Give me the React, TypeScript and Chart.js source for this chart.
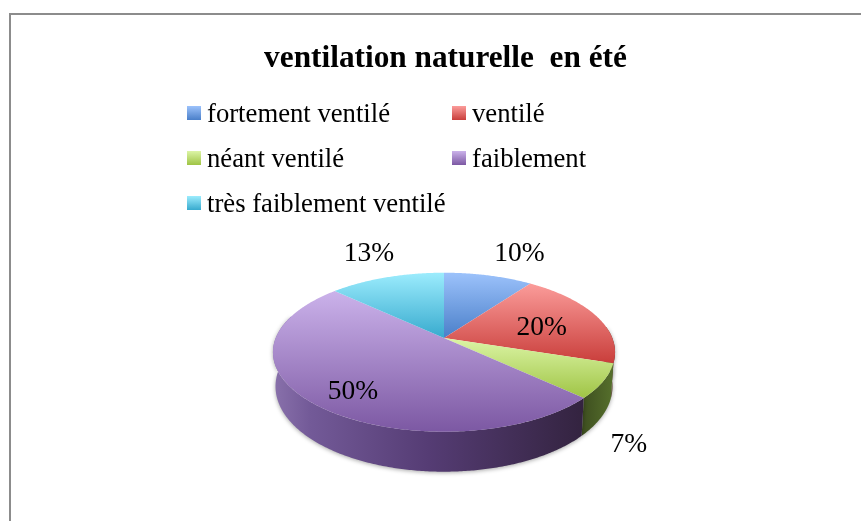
import React, { useEffect, useRef } from "react";
import { Chart, registerables } from "chart.js";

Chart.register(...registerables);

const categories = ["fortement ventilé", "ventilé", "néant ventilé", "faiblement", "très faiblement ventilé"];
const values = [10, 20, 7, 50, 13];
const titleText = "ventilation naturelle  en été";
const topLight = ["#9cc2fb", "#fb9c9a", "#dcf5a6", "#cbb2ea", "#9cecfd"];
const topDark = ["#4a7fc9", "#c93e3b", "#9fc445", "#7c58a3", "#37aace"];
const wallStops: string[][] = [
  ["#2f4a75", "#2f4a75"],
  ["#5c4a2a", "#5a2a22"],
  ["#3f5020", "#56702c"],
  ["#8a72ac", "#33233f"],
  ["#2d7f99", "#2d7f99"],
];
const labelShift = [[31, -22], [-54, 12.5], [25.6, 64], [41.4, -11], [-17.6, -24]];

const VIEW = { cx: 444, cy: 338, a: 168.3, b: 76.96, k: 0.1786, wallLow: 33, wallGrow: 7, shrink: 0.985 };
const LEGEND = { columns: [187, 452], rows: [113, 158, 203], box: 14, gap: 6, textDrop: 1.5 };

const project = (angle: number, r = 1) => {
  const x = r * Math.cos(angle);
  const y = r * Math.sin(angle);
  const d = 1 - VIEW.k * y;
  return { x: VIEW.cx + (VIEW.a * x) / d, y: VIEW.cy + (VIEW.b * y) / d, uy: y };
};
const lower = (angle: number) => {
  const p = project(angle);
  return { x: VIEW.cx + (p.x - VIEW.cx) * VIEW.shrink, y: p.y + VIEW.wallLow + VIEW.wallGrow * p.uy };
};
const rim = (start: number, end: number) => {
  const steps = Math.max(2, Math.ceil(Math.abs(end - start) / 0.01));
  const out: number[] = [];
  for (let i = 0; i <= steps; i++) out.push(start + ((end - start) * i) / steps);
  return out;
};

const pie3d = {
  id: "pie3d",
  beforeDatasetDraw(chart: any) {
    const ctx = chart.ctx;
    const arcs = chart.getDatasetMeta(0).data;
    // walls
    const frontA = -0.15;
    const frontB = Math.PI + 0.3;
    ctx.save();
    ctx.shadowColor = "rgba(0,0,0,0.35)";
    ctx.shadowBlur = 4;
    ctx.shadowOffsetY = 1;
    arcs.forEach((arc: any, i: number) => {
      const s = Math.max(arc.startAngle, frontA);
      const e = Math.min(arc.endAngle, frontB);
      if (e <= s) return;
      const angles = rim(s, e);
      const top = angles.map((t) => project(t));
      const bot = angles.map(lower);
      const xs = top.map((p) => p.x);
      const g = ctx.createLinearGradient(i === 3 ? 272 : Math.min(...xs), 0, i === 3 ? 585 : Math.max(...xs), 0);
      g.addColorStop(0, wallStops[i][0]);
      if (i === 3) {
        g.addColorStop(0.12, "#735a98");
        g.addColorStop(0.5, "#553c74");
      }
      g.addColorStop(1, wallStops[i][1]);
      ctx.beginPath();
      top.forEach((p, j) => (j ? ctx.lineTo(p.x, p.y) : ctx.moveTo(p.x, p.y)));
      bot.reverse().forEach((p) => ctx.lineTo(p.x, p.y));
      ctx.closePath();
      ctx.fillStyle = g;
      ctx.fill();
    });
    ctx.restore();
    // top faces
    arcs.forEach((arc: any, i: number) => {
      const pts = rim(arc.startAngle, arc.endAngle).map((t) => project(t));
      const ys = pts.map((p) => p.y).concat(VIEW.cy);
      const g = ctx.createLinearGradient(0, Math.min(...ys), 0, Math.max(...ys));
      g.addColorStop(0, topLight[i]);
      g.addColorStop(1, topDark[i]);
      ctx.beginPath();
      ctx.moveTo(VIEW.cx, VIEW.cy);
      pts.forEach((p) => ctx.lineTo(p.x, p.y));
      ctx.closePath();
      ctx.fillStyle = g;
      ctx.fill();
    });
    // value labels
    const sum = values.reduce((a, b) => a + b, 0);
    ctx.fillStyle = "#000";
    ctx.font = '27.5px "Liberation Serif"';
    ctx.textAlign = "center";
    ctx.textBaseline = "middle";
    arcs.forEach((arc: any, i: number) => {
      const p = project((arc.startAngle + arc.endAngle) / 2);
      ctx.fillText(Math.round((values[i] / sum) * 100) + "%", p.x + labelShift[i][0], p.y + labelShift[i][1]);
    });
    return false;
  },
};

const sideLegend = {
  id: "sideLegend",
  afterDraw(chart: any) {
    const ctx = chart.ctx;
    ctx.save();
    // frame: left and top edges only, the rest is cut off
    ctx.strokeStyle = "#8c8c8c";
    ctx.lineWidth = 2;
    ctx.beginPath();
    ctx.moveTo(10, 521);
    ctx.lineTo(10, 14);
    ctx.lineTo(861, 14);
    ctx.stroke();
    // legend
    ctx.font = '26.7px "Liberation Serif"';
    ctx.textBaseline = "middle";
    ctx.textAlign = "left";
    categories.forEach((name, i) => {
      const x = LEGEND.columns[i % 2];
      const y = LEGEND.rows[Math.floor(i / 2)];
      const g = ctx.createLinearGradient(0, y - LEGEND.box / 2, 0, y + LEGEND.box / 2);
      g.addColorStop(0, topLight[i]);
      g.addColorStop(1, topDark[i]);
      ctx.fillStyle = g;
      ctx.fillRect(x, y - LEGEND.box / 2, LEGEND.box, LEGEND.box);
      ctx.fillStyle = "#000";
      ctx.fillText(name, x + LEGEND.box + LEGEND.gap, y + LEGEND.textDrop);
    });
    ctx.restore();
  },
};

export default function App() {
  const ref = useRef<HTMLCanvasElement>(null);
  useEffect(() => {
    const chart = new Chart(ref.current as HTMLCanvasElement, {
      type: "pie",
      data: { labels: categories, datasets: [{ data: values, backgroundColor: topDark, borderWidth: 0 }] },
      options: {
        responsive: false,
        animation: false,
        rotation: 0,
        layout: { padding: { left: 30, right: 0, top: 40, bottom: 0 } },
        plugins: {
          legend: { display: false },
          tooltip: { enabled: false },
          title: {
            display: true,
            text: titleText,
            color: "#000",
            font: { family: '"Liberation Serif"', size: 31.3, weight: "bold" },
            padding: { top: 0, bottom: 0 },
          },
        },
      },
      plugins: [pie3d, sideLegend],
    } as any);
    return () => chart.destroy();
  }, []);
  return (
    <div style={{ position: "absolute", left: 0, top: 0, width: 861, height: 521, background: "#fff" }}>
      <canvas ref={ref} width={861} height={521} style={{ display: "block" }} />
    </div>
  );
}
